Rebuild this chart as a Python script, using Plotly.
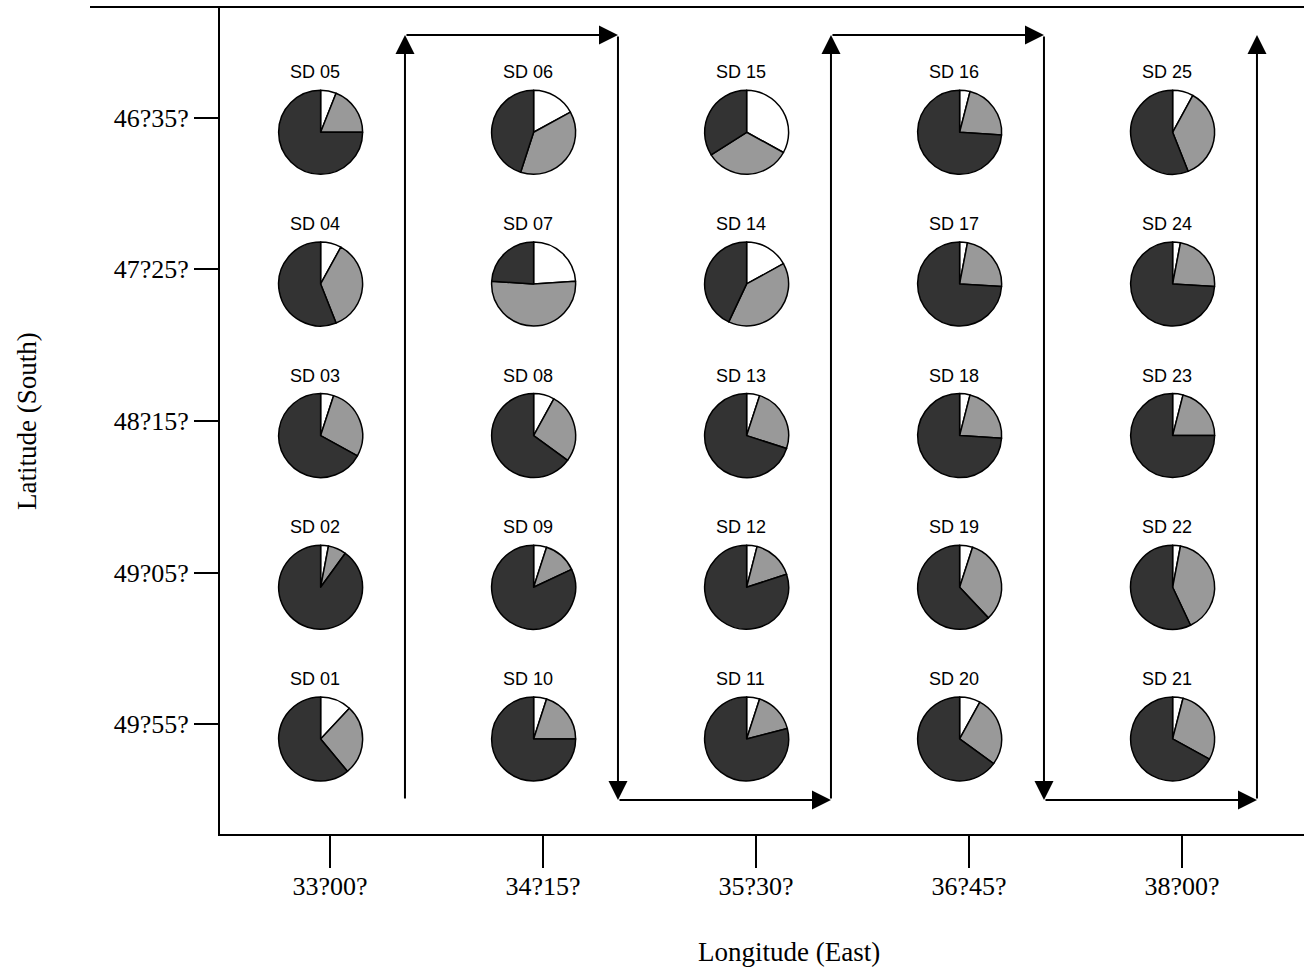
import plotly.graph_objects as go

# Station names and grid positions (degrees)
stations = [f"SD {i:02d}" for i in range(1, 26)]
lon_cols = [33.0, 34.25, 35.5, 36.75, 38.0]
lat_rows = [46 + 35 / 60, 47 + 25 / 60, 48 + 15 / 60, 49 + 5 / 60, 49 + 55 / 60]

station_lon = [33.0] * 5 + [34.25] * 5 + [35.5] * 5 + [36.75] * 5 + [38.0] * 5
station_lat = (
    lat_rows[::-1] + lat_rows + lat_rows[::-1] + lat_rows + lat_rows[::-1]
)

# Composition of each station (%): white, grey, dark fractions
frac_white = [12, 3, 5, 8, 6, 17, 24, 8, 5, 5, 5, 4, 5, 17, 33,
              4, 3, 4, 5, 8, 4, 3, 4, 3, 8]
frac_grey = [27, 7, 28, 36, 19, 38, 52, 27, 13, 20, 16, 16, 25, 40, 33,
             22, 23, 22, 33, 27, 29, 40, 21, 23, 36]
frac_dark = [61, 90, 67, 56, 75, 45, 24, 65, 82, 75, 79, 80, 70, 43, 34,
             74, 74, 74, 62, 65, 67, 57, 75, 74, 56]

lon_ticktext = ["33?00?", "34?15?", "35?30?", "36?45?", "38?00?"]
lat_ticktext = ["46?35?", "47?25?", "48?15?", "49?05?", "49?55?"]

W, H = 1304, 971
ML, MR, MT, MB = 220, 0, 7, 137
PW, PH = W - ML - MR, H - MT - MB

x_range = [32.3545, 38.716]
y_range = [50.519, 45.975]  # latitude south increases downward

SERIF = "Liberation Serif, Times New Roman, serif"
SANS = "Liberation Sans, Arial, sans-serif"
PIE_COLORS = ["#ffffff", "#999999", "#333333"]

# pie cell placement relative to station grid point
pie_dx, pie_dy = -0.055, 0.08
pie_d = 84  # px


def to_frac_x(lon):
    return (lon - x_range[0]) / (x_range[1] - x_range[0])


def to_frac_y(lat):
    return (y_range[0] - lat) / (y_range[0] - y_range[1])


fig = go.Figure()

# invisible trace to activate the cartesian axes
fig.add_trace(go.Scatter(x=[x_range[0]], y=[y_range[0]], mode="markers",
                         marker=dict(opacity=0), hoverinfo="skip",
                         showlegend=False))

rx = pie_d / 2 / PW
ry = pie_d / 2 / PH
annotations = []
for i, name in enumerate(stations):
    cx = to_frac_x(station_lon[i] + pie_dx)
    cy = to_frac_y(station_lat[i] + pie_dy)
    fig.add_trace(go.Pie(
        values=[frac_white[i], frac_grey[i], frac_dark[i]],
        labels=["white", "grey", "dark"],
        sort=False, direction="clockwise", rotation=0,
        marker=dict(colors=PIE_COLORS, line=dict(color="black", width=1.5)),
        textinfo="none", hoverinfo="skip", showlegend=False,
        domain=dict(x=[cx - rx, cx + rx], y=[cy - ry, cy + ry]),
    ))
    annotations.append(dict(
        x=station_lon[i] + pie_dx, y=station_lat[i] + pie_dy,
        xref="x", yref="y", text=name, showarrow=False,
        yshift=60, xshift=-6,
        font=dict(family=SANS, size=18, color="black"),
    ))

# cruise track: alternating north/south legs between station columns
track_dx = 0.44
track_top = lat_rows[0] - 0.454
track_bottom = lat_rows[-1] + 0.415
track = [(lon_cols[0] + track_dx, track_bottom)]
for k, lon in enumerate(lon_cols):
    x = lon + track_dx
    going_up = (k % 2 == 0)
    if k > 0:
        track.append((x, track[-1][1]))
    track.append((x, track_top if going_up else track_bottom))

for (x0, y0), (x1, y1) in zip(track[:-1], track[1:]):
    annotations.append(dict(
        x=x1, y=y1, ax=x0, ay=y0, xref="x", yref="y", axref="x", ayref="y",
        text="", showarrow=True, arrowhead=2, arrowsize=1.9, arrowwidth=2,
        arrowcolor="black", standoff=0, startstandoff=0,
    ))

# axis titles
annotations.append(dict(
    x=(789 - ML) / PW, y=(H - MB - 952) / PH, xref="paper", yref="paper",
    xanchor="center", yanchor="middle",
    text="Longitude (East)", showarrow=False,
    font=dict(family=SERIF, size=27, color="black"),
))
annotations.append(dict(
    x=(27 - ML) / PW, y=(H - MB - 421) / PH, xref="paper", yref="paper",
    xanchor="center", yanchor="middle",
    text="Latitude (South)", showarrow=False, textangle=-90,
    font=dict(family=SERIF, size=27, color="black"),
))

shapes = [dict(type="line", xref="paper", yref="paper",
               x0=(90 - ML) / PW, x1=1, y0=1, y1=1,
               line=dict(color="black", width=2))]

fig.update_layout(
    width=W, height=H,
    margin=dict(l=ML, r=MR, t=MT, b=MB, pad=0),
    paper_bgcolor="white", plot_bgcolor="white",
    xaxis=dict(range=x_range, tickvals=lon_cols, ticktext=lon_ticktext,
               ticks="outside", ticklen=32, tickwidth=2, tickcolor="black",
               ticklabelstandoff=-4,
               showline=True, linecolor="black", linewidth=2,
               showgrid=False, zeroline=False,
               tickfont=dict(family=SERIF, size=26, color="black")),
    yaxis=dict(range=y_range, tickvals=lat_rows, ticktext=lat_ticktext,
               ticks="outside", ticklen=24, tickwidth=2, tickcolor="black",
               showline=True, linecolor="black", linewidth=2,
               showgrid=False, zeroline=False,
               tickfont=dict(family=SERIF, size=26, color="black")),
    annotations=annotations,
    shapes=shapes,
)

fig.write_html("out.html")
